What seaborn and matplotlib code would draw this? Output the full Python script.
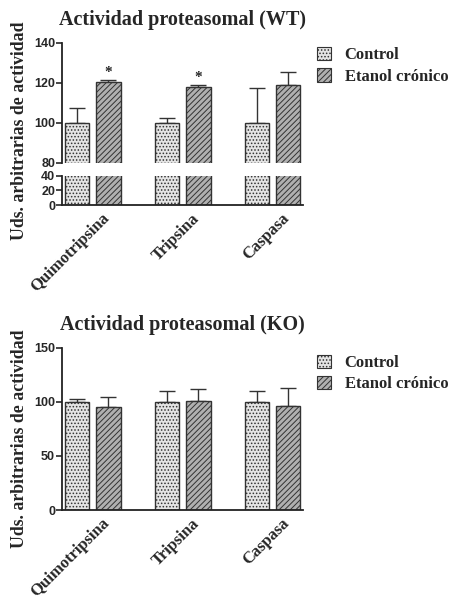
import numpy as np
import pandas as pd
import seaborn as sns
import matplotlib.pyplot as plt
from matplotlib.patches import Patch
from matplotlib.transforms import ScaledTranslation

# Data
enzymes = ['Quimotripsina', 'Tripsina', 'Caspasa']
groups = ['Control', 'Etanol crónico']

wt_control = [100, 100, 100]
wt_control_err = [7.7, 2.5, 17.3]
wt_etanol = [120.3, 118.2, 119.0]
wt_etanol_err = [1.4, 0.8, 6.3]
wt_control_signif = [False, False, False]
wt_etanol_signif = [True, True, False]

ko_control = [100, 100, 100]
ko_control_err = [3.0, 10.5, 10.0]
ko_etanol = [95.0, 100.6, 96.0]
ko_etanol_err = [9.6, 11.4, 16.6]

wt_ticks_top = [80, 100, 120, 140]
wt_ticks_bot = [0, 20, 40]
ko_ticks = [0, 50, 100, 150]

sns.set_style('ticks')
plt.rcParams['hatch.linewidth'] = 0.7
serif = ['Liberation Serif', 'DejaVu Serif']
sans = ['Liberation Sans', 'DejaVu Sans']

fill = {'Control': '#e4e4e4', 'Etanol crónico': '#b0b0b0'}
hatch = {'Control': '.....', 'Etanol crónico': '//////'}


def make_df(ctrl, eta, ctrl_err, eta_err):
    return pd.DataFrame({
        'enzyme': enzymes * 2,
        'group': [groups[0]] * 3 + [groups[1]] * 3,
        'value': ctrl + eta,
        'err': ctrl_err + eta_err,
    })


def bold_yticks(ax):
    for lab in ax.get_yticklabels():
        lab.set_fontweight('bold')
        lab.set_family(sans)


def draw_bars(ax, df, with_err=True, stars=None):
    sns.barplot(data=df, x='enzyme', y='value', hue='group', order=enzymes,
                hue_order=groups, palette=fill, errorbar=None, width=0.69,
                gap=0.2, edgecolor='#333333', linewidth=1.0, legend=False, ax=ax)
    bars = ax.patches[:6]
    for i, p in enumerate(bars):
        g = groups[i // 3]
        p.set_hatch(hatch[g])
        p.set_zorder(2)
        if with_err:
            x = p.get_x() + p.get_width() / 2
            y = df['value'].iloc[i]
            e = df['err'].iloc[i]
            ax.errorbar(x, y, yerr=[[0], [e]], fmt='none', ecolor='#333333',
                        elinewidth=1.0, capsize=6, capthick=1.0, zorder=1)
            if stars and stars[i]:
                ax.text(x, y + e + 0.3, '*', ha='center', va='bottom',
                        fontsize=11, fontweight='bold', family=serif)
    ax.set_xlim(-0.339, 2.339)
    ax.set_xlabel('')
    ax.set_ylabel('')
    sns.despine(ax=ax)
    for s in ['left', 'bottom']:
        ax.spines[s].set_linewidth(1.3)
        ax.spines[s].set_color('#222222')
    ax.tick_params(axis='y', labelsize=9, width=1.2, length=4, pad=1)


def style_xticks(ax):
    ax.tick_params(axis='x', length=0, pad=4)
    ax.set_xticks(range(3))
    labs = ax.set_xticklabels(enzymes, rotation=45, ha='right', rotation_mode='anchor',
                              fontsize=12, fontweight='bold', family=serif)
    shift = ScaledTranslation(9 / 100, 0, ax.figure.dpi_scale_trans)
    for lab in labs:
        lab.set_transform(lab.get_transform() + shift)


def add_legend(fig, y):
    handles = [Patch(facecolor=fill[g], edgecolor='#333333', hatch=hatch[g],
                     linewidth=0.8) for g in groups]
    fig.legend(handles, groups, loc='upper left',
               bbox_to_anchor=(0.700, y), frameon=False,
               prop={'family': serif, 'weight': 'bold', 'size': 12},
               handlelength=0.85, handleheight=0.85, handletextpad=0.8,
               labelspacing=0.3, borderaxespad=0, borderpad=0)


fig = plt.figure(figsize=(4.53, 6.01), dpi=100)

# WT with broken axis
wt = make_df(wt_control, wt_etanol, wt_control_err, wt_etanol_err)
ax_top = fig.add_axes([0.137, 0.7288, 0.532, 0.1997])
ax_bot = fig.add_axes([0.137, 0.6589, 0.532, 0.0483])
draw_bars(ax_top, wt, stars=wt_control_signif + wt_etanol_signif)
draw_bars(ax_bot, wt, with_err=False)
ax_top.set_ylim(80, 140)
ax_top.set_yticks(wt_ticks_top)
ax_top.spines['bottom'].set_visible(False)
ax_top.tick_params(axis='x', bottom=False, labelbottom=False)
ax_bot.set_ylim(0, 40)
ax_bot.set_yticks(wt_ticks_bot)
bold_yticks(ax_top)
bold_yticks(ax_bot)
style_xticks(ax_bot)
ax_top.set_title('Actividad proteasomal (WT)', fontsize=14.5, fontweight='bold',
                 family=serif, pad=13)
fig.text(0.042, 0.782, 'Uds. arbitrarias de actividad', rotation=90,
         ha='center', va='center', fontsize=12.8, fontweight='bold', family=serif)
add_legend(fig, 0.922)

# KO
ko = make_df(ko_control, ko_etanol, ko_control_err, ko_etanol_err)
ax_ko = fig.add_axes([0.137, 0.1514, 0.532, 0.2696])
draw_bars(ax_ko, ko)
ax_ko.set_ylim(0, 150)
ax_ko.set_yticks(ko_ticks)
bold_yticks(ax_ko)
style_xticks(ax_ko)
ax_ko.set_title('Actividad proteasomal (KO)', fontsize=14.5, fontweight='bold',
                family=serif, pad=13)
fig.text(0.042, 0.27, 'Uds. arbitrarias de actividad', rotation=90,
         ha='center', va='center', fontsize=12.8, fontweight='bold', family=serif)
add_legend(fig, 0.410)

fig.savefig('out.png', dpi=100, facecolor='white')
